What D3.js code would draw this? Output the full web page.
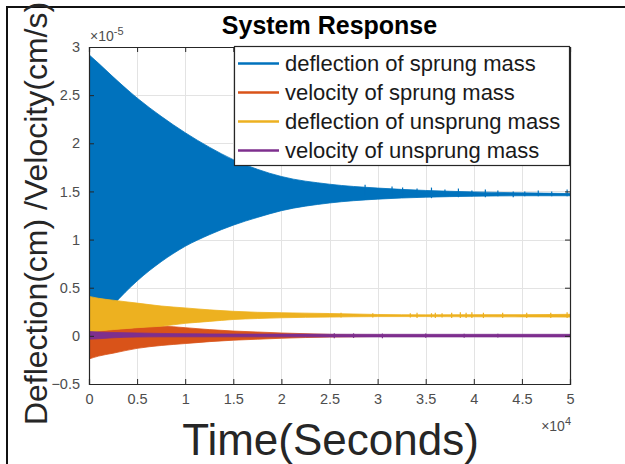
<!DOCTYPE html>
<html>
<head>
<meta charset="utf-8">
<script src="https://cdn.jsdelivr.net/npm/d3@7"></script>
<style>
  html, body { margin: 0; padding: 0; background: #fff; }
  svg { display: block; font-family: "Liberation Sans", Arial, Helvetica, sans-serif; }
</style>
</head>
<body>
<svg id="chart" width="625" height="464"></svg>
<script>
// Time samples (x 10^4 s) at which each response envelope was read
const tSamples = [0, 0.1, 0.25, 0.5, 0.75, 1, 1.25, 1.5, 1.75, 2, 2.5, 3, 3.5, 4, 4.5, 5];

// Envelopes (x 10^-5): upper and lower extent of the fast oscillation
const sprungDeflHi   = [2.92, 2.83, 2.69, 2.47, 2.28, 2.11, 1.96, 1.83, 1.73, 1.655, 1.575, 1.535, 1.51, 1.495, 1.485, 1.478];
const sprungDeflLo   = [0.02, 0.15, 0.32, 0.57, 0.77, 0.93, 1.05, 1.15, 1.23, 1.30, 1.38, 1.42, 1.44, 1.45, 1.455, 1.455];
const sprungVelHi    = [0.04, 0.05, 0.065, 0.085, 0.10, 0.085, 0.065, 0.05, 0.04, 0.03, 0.015, 0.006, 0.004, 0.003, 0.003, 0.003];
const sprungVelLo    = [-0.24, -0.21, -0.18, -0.13, -0.10, -0.08, -0.06, -0.045, -0.035, -0.025, -0.012, -0.006, -0.004, -0.003, -0.003, -0.003];
const unsprungDeflHi = [0.41, 0.39, 0.37, 0.34, 0.31, 0.29, 0.27, 0.255, 0.245, 0.24, 0.232, 0.222, 0.218, 0.22, 0.22, 0.224];
const unsprungDeflLo = [0.04, 0.05, 0.065, 0.085, 0.10, 0.13, 0.15, 0.17, 0.18, 0.188, 0.195, 0.20, 0.20, 0.198, 0.197, 0.195];
const unsprungVelHi  = [0.045, 0.04, 0.035, 0.03, 0.025, 0.022, 0.02, 0.019, 0.018, 0.018, 0.017, 0.016, 0.016, 0.016, 0.016, 0.016];
const unsprungVelLo  = [-0.035, -0.03, -0.02, -0.012, -0.01, -0.01, -0.01, -0.01, -0.01, -0.01, -0.011, -0.011, -0.011, -0.011, -0.011, -0.011];

// Occasional excursions in the settled tails: [time, low, high]
const sprungDeflSpikes = [[2.87, 1.46, 1.57], [3.15, 1.44, 1.55], [3.26, 1.45, 1.54], [3.41, 1.44, 1.53], [3.56, 1.43, 1.54],
  [3.70, 1.45, 1.52], [3.84, 1.44, 1.53], [3.98, 1.45, 1.51], [4.12, 1.44, 1.52], [4.25, 1.45, 1.51], [4.41, 1.44, 1.50],
  [4.53, 1.45, 1.50], [4.67, 1.45, 1.51], [4.81, 1.45, 1.50], [4.97, 1.45, 1.52]];
const unsprungDeflSpikes = [[2.62, 0.19, 0.24], [2.95, 0.19, 0.235], [3.34, 0.19, 0.235], [3.41, 0.185, 0.24], [3.56, 0.19, 0.235],
  [3.60, 0.185, 0.24], [3.67, 0.19, 0.235], [3.77, 0.185, 0.24], [3.86, 0.185, 0.245], [3.92, 0.185, 0.24], [3.98, 0.185, 0.245],
  [4.10, 0.185, 0.24], [4.30, 0.185, 0.24], [4.55, 0.185, 0.24], [4.80, 0.185, 0.24], [4.97, 0.185, 0.245]];
const unsprungVelSpikes = [[2.55, -0.025, 0.028], [2.75, -0.022, 0.026], [3.05, -0.025, 0.024], [3.5, -0.02, 0.024], [3.9, -0.02, 0.022], [4.25, -0.018, 0.022]];

const seriesNames = ["deflection of sprung mass", "velocity of sprung mass",
                     "deflection of unsprung mass", "velocity of unsprung mass"];
const seriesColors = ["#0072BD", "#D95319", "#EDB120", "#7E2F8E"];

const xTicks = [0, 0.5, 1, 1.5, 2, 2.5, 3, 3.5, 4, 4.5, 5];
const yTicks = [-0.5, 0, 0.5, 1, 1.5, 2, 2.5, 3];

const svg = d3.select("#chart");
const W = 625, H = 464;
const m = { left: 89, right: 55, top: 47, bottom: 80 };
const pw = W - m.left - m.right, ph = H - m.top - m.bottom;

const x = d3.scaleLinear().domain([0, 5]).range([m.left, m.left + pw]);
const y = d3.scaleLinear().domain([-0.5, 3]).range([m.top + ph, m.top]);

// outer figure frame (top and left edges)
svg.append("path")
  .attr("d", `M7,${H} V7 H${W}`)
  .attr("fill", "none").attr("stroke", "#111").attr("stroke-width", 2);

// grid
const grid = svg.append("g").attr("stroke", "#e3e3e3").attr("stroke-width", 1);
grid.selectAll(".gx").data(xTicks.slice(1, -1)).join("line")
  .attr("x1", d => Math.round(x(d)) + 0.5).attr("x2", d => Math.round(x(d)) + 0.5)
  .attr("y1", m.top).attr("y2", m.top + ph);
grid.selectAll(".gy").data(yTicks.slice(1, -1)).join("line")
  .attr("y1", d => Math.round(y(d)) + 0.5).attr("y2", d => Math.round(y(d)) + 0.5)
  .attr("x1", m.left).attr("x2", m.left + pw);

svg.append("clipPath").attr("id", "plotClip")
  .append("rect").attr("x", m.left).attr("y", m.top).attr("width", pw).attr("height", ph);
const plot = svg.append("g").attr("clip-path", "url(#plotClip)");

const bands = [
  [sprungDeflHi, sprungDeflLo],
  [sprungVelHi, sprungVelLo],
  [unsprungDeflHi, unsprungDeflLo],
  [unsprungVelHi, unsprungVelLo]
];
const spikes = [sprungDeflSpikes, [], unsprungDeflSpikes, unsprungVelSpikes];

const area = d3.area()
  .x(d => x(d.t)).y0(d => y(d.lo)).y1(d => y(d.hi))
  .curve(d3.curveMonotoneX);

bands.forEach(([hi, lo], i) => {
  const rows = tSamples.map((t, k) => ({ t, hi: hi[k], lo: lo[k] }));
  plot.append("path").datum(rows)
    .attr("d", area)
    .attr("fill", seriesColors[i])
    .attr("stroke", seriesColors[i]).attr("stroke-width", 0.8);
  plot.append("g").selectAll("line").data(spikes[i]).join("line")
    .attr("x1", d => x(d[0])).attr("x2", d => x(d[0]))
    .attr("y1", d => y(d[1])).attr("y2", d => y(d[2]))
    .attr("stroke", seriesColors[i]).attr("stroke-width", 1.2);
});

// axes box
const axisColor = "#262626";
const labelColor = "#4d4d4d";
const xAxis = d3.axisBottom(x).tickValues(xTicks).tickSize(-5).tickPadding(10).tickFormat(d3.format("~g"));
const yAxis = d3.axisLeft(y).tickValues(yTicks).tickSize(-5).tickPadding(9).tickFormat(d3.format("~g"));
const xAxisTop = d3.axisTop(x).tickValues(xTicks).tickSize(-5).tickFormat("");
const yAxisRight = d3.axisRight(y).tickValues(yTicks).tickSize(-5).tickFormat("");

function styleAxis(g) {
  g.select(".domain").attr("stroke", axisColor).attr("stroke-width", 1.2);
  g.selectAll(".tick line").attr("stroke", axisColor);
  g.selectAll(".tick text").attr("fill", labelColor)
    .style("font-size", "14.5px").style("font-family", "Liberation Sans, Arial, sans-serif");
}
svg.append("g").attr("transform", `translate(0,${m.top + ph})`).call(xAxis).call(styleAxis);
svg.append("g").attr("transform", `translate(${m.left},0)`).call(yAxis).call(styleAxis);
svg.append("g").attr("transform", `translate(0,${m.top})`).call(xAxisTop).call(styleAxis);
svg.append("g").attr("transform", `translate(${m.left + pw},0)`).call(yAxisRight).call(styleAxis);

// exponent markers
const yExp = svg.append("text").attr("x", m.left + 1).attr("y", m.top - 6)
  .attr("fill", labelColor).style("font-size", "14px");
yExp.append("tspan").text("\u00d710");
yExp.append("tspan").attr("dy", -6).style("font-size", "11px").text("-5");

const xExp = svg.append("text").attr("x", m.left + pw + 1).attr("y", m.top + ph + 47)
  .attr("text-anchor", "end")
  .attr("fill", labelColor).style("font-size", "14px");
xExp.append("tspan").text("\u00d710");
xExp.append("tspan").attr("dy", -6).style("font-size", "11px").text("4");

// title
svg.append("text")
  .attr("x", m.left + pw / 2).attr("y", 34)
  .attr("text-anchor", "middle")
  .attr("fill", "#000")
  .style("font-size", "25px").style("font-weight", "bold")
  .text("System Response");

// axis labels
svg.append("text")
  .attr("x", m.left + pw / 2 + 1).attr("y", 455)
  .attr("text-anchor", "middle")
  .attr("fill", axisColor)
  .style("font-size", "44px")
  .text("Time(Seconds)");

svg.append("text")
  .attr("transform", `translate(47,${m.top + ph / 2 - 2}) rotate(-90)`)
  .attr("text-anchor", "middle")
  .attr("fill", axisColor)
  .style("font-size", "32px")
  .text("Deflection(cm) /Velocity(cm/s)");

// legend
const lg = svg.append("g");
lg.append("rect")
  .attr("x", 234.5).attr("y", 46.5).attr("width", 335).attr("height", 119)
  .attr("fill", "#fff").attr("stroke", "#262626").attr("stroke-width", 1.2);
const rows = lg.selectAll(".row").data(seriesNames).join("g")
  .attr("transform", (d, i) => `translate(0,${63.5 + i * 29})`);
rows.append("line")
  .attr("x1", 238).attr("x2", 279).attr("y1", 0).attr("y2", 0)
  .attr("stroke", (d, i) => seriesColors[i]).attr("stroke-width", 2.6);
rows.append("text")
  .attr("x", 285).attr("y", 7.5)
  .attr("fill", "#1a1a1a")
  .style("font-size", "22px")
  .text(d => d);
</script>
</body>
</html>
